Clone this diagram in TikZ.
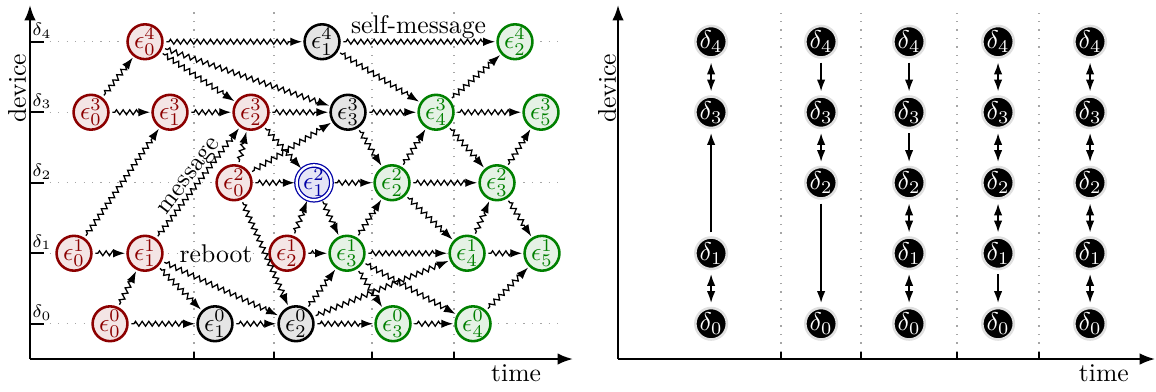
\documentclass[tikz,border=0pt]{standalone}
\usepackage{tikz}
\usetikzlibrary{arrows.meta,decorations.pathmorphing}

\begin{document}
\begin{tikzpicture}[x=0.967cm,y=0.967cm,line width=0.5pt,
    >={Latex[length=4.6pt,width=3.3pt]},
    ev/.style={circle,draw,line width=1pt,inner sep=0pt,minimum size=11.5pt},
    old/.style={ev,draw=red!55!black,fill=red!55!black!10,text=red!55!black},
    mid/.style={ev,draw=black,fill=black!10},
    new/.style={ev,draw=green!50!black,fill=green!50!black!10,text=green!50!black},
    hit/.style={ev,draw=blue!65!black,fill=blue!65!black!10,text=blue!65!black,
        double,line width=0.5pt,double distance=0.9pt,minimum size=11pt},
    msg/.style={->,shorten <=1pt,shorten >=0.5pt,decorate,
        decoration={zigzag,amplitude=0.95pt,segment length=2.6pt,pre length=2pt,post length=4.5pt}},
    dev/.style={circle,fill=black,draw=black!12,line width=1pt,inner sep=0pt,
        minimum size=11pt,text=white},
    link/.style={semithick,->,shorten <=1.5pt,shorten >=1.5pt},
    bilink/.style={semithick,<->,shorten <=1.5pt,shorten >=1.5pt},
    grid/.style={gray!70,line width=0.5pt,dash pattern=on 0.5pt off 2.8pt},
    axis/.style={line width=0.8pt,-{Latex[length=6pt,width=4.5pt]}}]

    \useasboundingbox (-0.4255,-0.454) rectangle (15.97,5.092);

    % left: events over time
    \foreach \y in {0.5,1.5,...,4.5}
        \draw[grid] (0.28,\y) -- (7.59,\y);
    \foreach \x in {2.326,3.461,4.851,6.014} {
        \draw[grid] (\x,0.1) -- (\x,4.92);
        \draw[line width=0.8pt] (\x,0) -- (\x,0.1);
    }
    \foreach \d in {0,...,4} {
        \draw[line width=0.8pt] (0,\d+0.5) -- (0.2,\d+0.5);
        \node[font=\scriptsize,inner sep=0pt] at (0.17,\d+0.655) {$\delta_\d$};
    }
    \draw[axis] (0,0) -- (7.70,0);
    \draw[axis] (0,0) -- (0,5.02);
    \node[rotate=90] at (-0.184,3.84) {device};
    \node at (6.894,-0.2) {time};

    \node[old] (e40) at (1.631,4.5) {$\epsilon_0^4$};
    \node[mid] (e41) at (4.142,4.5) {$\epsilon_1^4$};
    \node[new] (e42) at (6.879,4.5) {$\epsilon_2^4$};

    \node[old] (e30) at (0.865,3.5) {$\epsilon_0^3$};
    \node[old] (e31) at (1.986,3.5) {$\epsilon_1^3$};
    \node[old] (e32) at (3.135,3.5) {$\epsilon_2^3$};
    \node[mid] (e33) at (4.511,3.5) {$\epsilon_3^3$};
    \node[new] (e34) at (5.759,3.5) {$\epsilon_4^3$};
    \node[new] (e35) at (7.248,3.5) {$\epsilon_5^3$};

    \node[old] (e20) at (2.894,2.5) {$\epsilon_0^2$};
    \node[hit] (e21) at (4.028,2.5) {$\epsilon_1^2$};
    \node[new] (e22) at (5.135,2.5) {$\epsilon_2^2$};
    \node[new] (e23) at (6.624,2.5) {$\epsilon_3^2$};

    \node[old] (e10) at (0.624,1.5) {$\epsilon_0^1$};
    \node[old] (e11) at (1.631,1.5) {$\epsilon_1^1$};
    \node[old] (e12) at (3.645,1.5) {$\epsilon_2^1$};
    \node[new] (e13) at (4.496,1.5) {$\epsilon_3^1$};
    \node[new] (e14) at (6.199,1.5) {$\epsilon_4^1$};
    \node[new] (e15) at (7.262,1.5) {$\epsilon_5^1$};

    \node[old] (e00) at (1.135,0.5) {$\epsilon_0^0$};
    \node[mid] (e01) at (2.624,0.5) {$\epsilon_1^0$};
    \node[mid] (e02) at (3.773,0.5) {$\epsilon_2^0$};
    \node[new] (e03) at (5.149,0.5) {$\epsilon_3^0$};
    \node[new] (e04) at (6.284,0.5) {$\epsilon_4^0$};

    \path (e11) -- node {reboot} (e12);

    \draw[msg] (e40) -- (e41);
    \draw[msg] (e40) -- (e32);
    \draw[msg] (e40) -- (e33);
    \draw[msg] (e41) -- node[above,inner sep=1pt] {self-message} (e42);
    \draw[msg] (e41) -- (e34);

    \draw[msg] (e30) -- (e40);
    \draw[msg] (e30) -- (e31);
    \draw[msg] (e31) -- (e32);
    \draw[msg] (e32) -- (e33);
    \draw[msg] (e32) -- (e21);
    \draw[msg] (e33) -- (e34);
    \draw[msg] (e33) -- (e22);
    \draw[msg] (e34) -- (e42);
    \draw[msg] (e34) -- (e35);
    \draw[msg] (e34) -- (e23);

    \draw[msg] (e20) -- (e32);
    \draw[msg] (e20) -- (e33);
    \draw[msg] (e20) -- (e21);
    \draw[msg] (e20) -- (e02);
    \draw[msg] (e21) -- (e22);
    \draw[msg] (e21) -- (e13);
    \draw[msg] (e22) -- (e34);
    \draw[msg] (e22) -- (e23);
    \draw[msg] (e22) -- (e14);
    \draw[msg] (e23) -- (e35);
    \draw[msg] (e23) -- (e15);

    \draw[msg] (e10) -- (e11);
    \draw[msg] (e10) -- (e31);
    \draw[msg] (e11) -- node[sloped,above,inner sep=0pt] {message} (e32);
    \draw[msg] (e11) -- (e01);
    \draw[msg] (e11) -- (e02);
    \draw[msg] (e12) -- (e21);
    \draw[msg] (e12) -- (e13);
    \draw[msg] (e13) -- (e22);
    \draw[msg] (e13) -- (e14);
    \draw[msg] (e13) -- (e03);
    \draw[msg] (e13) -- (e04);
    \draw[msg] (e14) -- (e23);
    \draw[msg] (e14) -- (e15);

    \draw[msg] (e00) -- (e11);
    \draw[msg] (e00) -- (e01);
    \draw[msg] (e01) -- (e02);
    \draw[msg] (e02) -- (e13);
    \draw[msg] (e02) -- (e03);
    \draw[msg] (e02) -- (e14);
    \draw[msg] (e03) -- (e04);
    \draw[msg] (e04) -- (e15);

    % right: who hears whom
    \foreach \x in {10.652,11.787,13.149,14.312} {
        \draw[grid] (\x,0.1) -- (\x,4.91);
        \draw[line width=0.8pt] (\x,0) -- (\x,0.1);
    }
    \draw[axis] (8.340,0) -- (15.957,0);
    \draw[axis] (8.340,0) -- (8.340,5.02);
    \node[rotate=90] at (8.184,3.84) {device};
    \node at (15.23,-0.2) {time};

    \foreach \d in {4,3,1,0}
        \node[dev] (p1d\d) at (9.660,\d+0.5) {$\delta_\d$};
    \foreach \d in {4,3,2,0}
        \node[dev] (p2d\d) at (11.220,\d+0.5) {$\delta_\d$};
    \foreach \c/\x in {3/12.468,4/13.730,5/15.035}
        \foreach \d in {0,...,4}
            \node[dev] (p\c d\d) at (\x,\d+0.5) {$\delta_\d$};

    \draw[bilink] (p1d4) -- (p1d3);
    \draw[link] (p1d1) -- (p1d3);
    \draw[bilink] (p1d1) -- (p1d0);

    \draw[link] (p2d4) -- (p2d3);
    \draw[bilink] (p2d3) -- (p2d2);
    \draw[link] (p2d2) -- (p2d0);

    \draw[link] (p3d4) -- (p3d3);
    \draw[link] (p3d3) -- (p3d2);
    \draw[bilink] (p3d2) -- (p3d1);
    \draw[bilink] (p3d1) -- (p3d0);

    \draw[bilink] (p4d4) -- (p4d3);
    \draw[bilink] (p4d3) -- (p4d2);
    \draw[bilink] (p4d2) -- (p4d1);
    \draw[link] (p4d1) -- (p4d0);

    \draw[bilink] (p5d4) -- (p5d3);
    \draw[bilink] (p5d3) -- (p5d2);
    \draw[bilink] (p5d2) -- (p5d1);
    \draw[bilink] (p5d1) -- (p5d0);
\end{tikzpicture}
\end{document}
